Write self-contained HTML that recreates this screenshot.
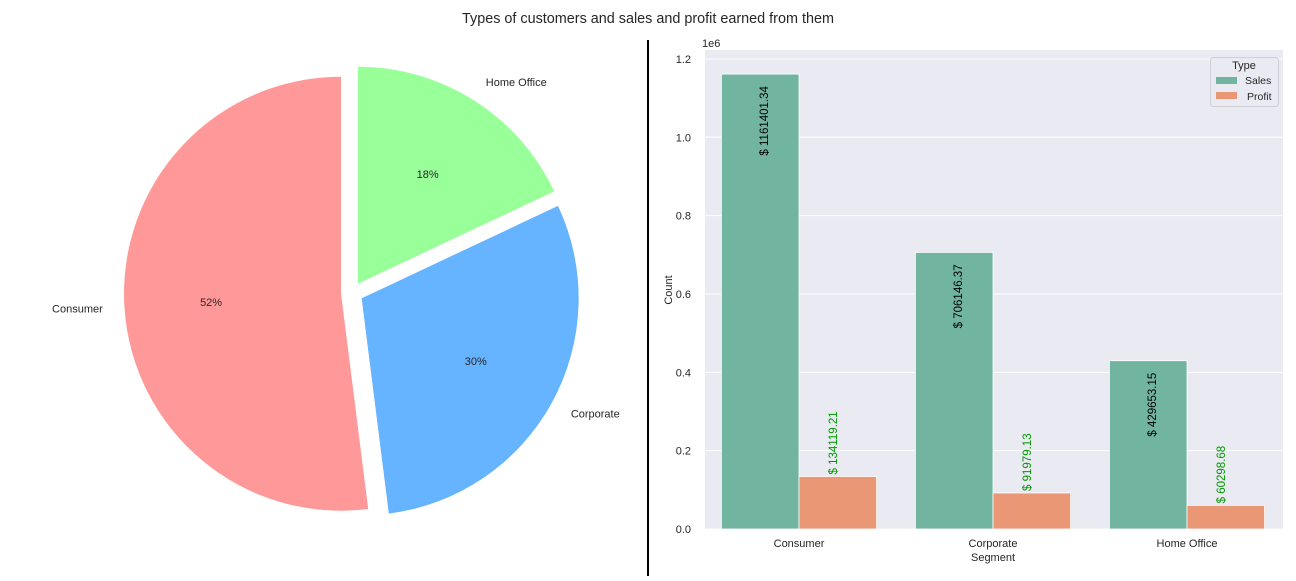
<!DOCTYPE html>
<html><head><meta charset="utf-8"><style>
body{margin:0;background:#fff;font-family:"Liberation Sans",sans-serif;}
svg text{font-family:"Liberation Sans",sans-serif;}
</style></head><body>
<svg id="s" width="1296" height="576" xmlns="http://www.w3.org/2000/svg">
<text x="648" y="23" font-size="14.4" text-anchor="middle" fill="#262626">Types of customers and sales and profit earned from them</text>
<line x1="648" y1="40" x2="648" y2="576" stroke="#000" stroke-width="2"/>
<g id="pie"></g>
<rect x="705" y="50" width="578" height="479" fill="#eaeaf2"/>
<g id="bars"></g>
</svg>
<script>
const pieLabels=["Consumer","Corporate","Home Office"];
const pieValues=[52,30,18];
const pieColors=["#ff9999","#66b3ff","#99ff99"];
const cats=["Consumer","Corporate","Home Office"];
const sales=[1161401.34,706146.37,429653.15];
const profit=[134119.21,91979.13,60298.68];
const yTicks=[0,0.2,0.4,0.6,0.8,1.0,1.2];
const NS="http://www.w3.org/2000/svg";
function mk(tag,attrs,parent,txt){const e=document.createElementNS(NS,tag);for(const k in attrs)e.setAttribute(k,attrs[k]);if(txt!==undefined)e.textContent=txt;parent.appendChild(e);return e;}
// pie
const pie=document.getElementById('pie');
const cx=352,cy=293,r=217,ex=11;
const tot=pieValues.reduce((a,b)=>a+b,0);
let a0=90;
pieValues.forEach((v,i)=>{
  const sw=v/tot*360,a1=a0+sw,mid=(a0+a1)/2*Math.PI/180;
  const ox=cx+ex*Math.cos(mid),oy=cy-ex*Math.sin(mid);
  const p0=[ox+r*Math.cos(a0*Math.PI/180),oy-r*Math.sin(a0*Math.PI/180)];
  const p1=[ox+r*Math.cos(a1*Math.PI/180),oy-r*Math.sin(a1*Math.PI/180)];
  const w=mk('path',{d:`M${ox},${oy}L${p0[0]},${p0[1]}A${r},${r} 0 ${sw>180?1:0} 0 ${p1[0]},${p1[1]}Z`,fill:pieColors[i]},pie);
  
  
  const t1=mk('text',{x:ox+1.1*r*Math.cos(mid),y:oy-1.1*r*Math.sin(mid)+4,'font-size':11,'text-anchor':Math.cos(mid)<0?'end':'start',fill:'#262626'},pie,pieLabels[i]);
  
  
  const t2=mk('text',{x:ox+0.6*r*Math.cos(mid),y:oy-0.6*r*Math.sin(mid)+4,'font-size':11,'text-anchor':'middle',fill:'#262626'},pie,Math.round(v/tot*100)+'%');
  
  
  a0=a1;
});
// bars
const g=document.getElementById('bars');
const y0=529,pxPerM=391.7;
const Y=v=>y0-v/1e6*pxPerM;
const X=i=>799+i*194;
const bw=77.6;
yTicks.forEach(t=>{
  const l=mk('line',{x1:705,x2:1283,y1:Y(t*1e6),y2:Y(t*1e6),stroke:'#fff','stroke-width':1},g);
  
  
  const tx=mk('text',{x:691,y:Y(t*1e6)+4,'font-size':11,'text-anchor':'end',fill:'#262626'},g,t.toFixed(1));
  
  
});
const e6=mk('text',{x:702,y:47,'font-size':11,fill:'#262626'},g,'1e6');


cats.forEach((c,i)=>{
  const sb=mk('rect',{x:X(i)-bw,y:Y(sales[i]),width:bw,height:y0-Y(sales[i]),fill:'#71b5a0',stroke:'#fff','stroke-width':0.8},g);
  
  
  const pb=mk('rect',{x:X(i),y:Y(profit[i]),width:bw,height:y0-Y(profit[i]),fill:'#e99774',stroke:'#fff','stroke-width':0.8},g);
  
  
  let sx=X(i)-bw/2+8, sy=Y(sales[i])+12;
  const sl=mk('text',{x:0,y:0,'font-size':11.5,'text-anchor':'end',fill:'#000',transform:`translate(${sx},${sy}) rotate(-90)`},g,'$ '+sales[i].toFixed(2));
  
  
  let px=X(i)+bw/2-1, py=Y(profit[i])-2;
  const pl=mk('text',{x:0,y:0,'font-size':11.5,'text-anchor':'start',fill:'#009900',transform:`translate(${px},${py}) rotate(-90)`},g,'$ '+profit[i].toFixed(2));
  
  
  const cl=mk('text',{x:X(i),y:547,'font-size':11,'text-anchor':'middle',fill:'#262626'},g,c);
  
  
});
const xt=mk('text',{x:993,y:561,'font-size':11,'text-anchor':'middle',fill:'#262626'},g,'Segment');


const yt=mk('text',{x:0,y:0,'font-size':11,'text-anchor':'middle',fill:'#262626',transform:'translate(672,290) rotate(-90)'},g,'Count');


// legend
const lg=mk('g',{},g);


mk('rect',{x:1210.5,y:57.5,width:68,height:49,rx:3,fill:'#eaeaf2',stroke:'#cfcfd6'},lg);
mk('text',{x:1244,y:69,'font-size':11,'text-anchor':'middle',fill:'#262626'},lg,'Type');
const le1=mk('g',{},lg);


mk('rect',{x:1216,y:77,width:21,height:7,fill:'#71b5a0'},le1);
mk('text',{x:1245,y:84,'font-size':10.5,fill:'#262626'},le1,'Sales');
const le2=mk('g',{},lg);


mk('rect',{x:1216,y:92,width:21,height:7,fill:'#e99774'},le2);
mk('text',{x:1247,y:100,'font-size':10.5,fill:'#262626'},le2,'Profit');
</script>
</body></html>
